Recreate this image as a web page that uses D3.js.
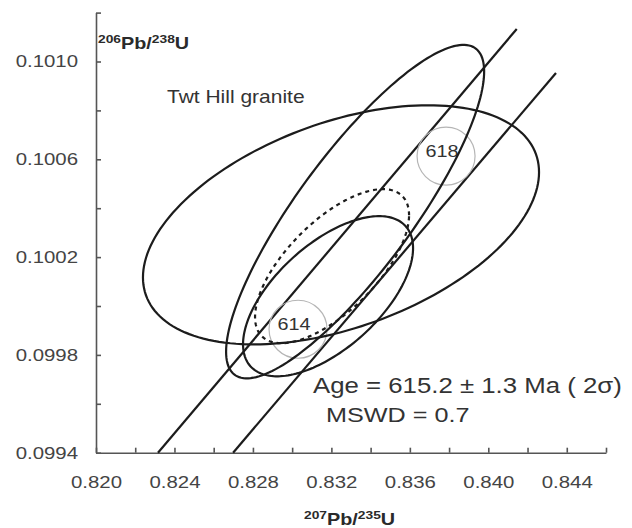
<!DOCTYPE html>
<html lang="en">
<head>
<meta charset="UTF-8">
<title>Twt Hill granite concordia</title>
<style>
  body { margin: 0; background: #fff; }
  svg { display: block; font-family: "Liberation Sans", Arial, sans-serif; }
  .axis path, .axis line { stroke: #555; stroke-width: 1.6; }
  .axis text { fill: #444; font-size: 17px; }
</style>
</head>
<body>
<script src="https://cdnjs.cloudflare.com/ajax/libs/d3/7.8.2/d3.min.js"></script>
<script>
// ticks
const xTicks = [0.820, 0.824, 0.828, 0.832, 0.836, 0.840, 0.844]
const xMinorTicks = [0.822, 0.826, 0.830, 0.834, 0.838, 0.842, 0.846]
const yTicks = [0.0994, 0.0998, 0.1002, 0.1006, 0.1010]
const yMinorTicks = [0.0996, 0.1000, 0.1004, 0.1008, 0.1012]

// analyses : 207Pb/235U, 206Pb/238U, half axes and rho
const ellX = [0.83249, 0.83321, 0.83183]
const ellY = [0.100332, 0.100386, 0.100040]
const ellSx = [0.010096, 0.006578, 0.004334]
const ellSy = [0.000489, 0.000682, 0.0003275]
const ellRho = [0.44, 0.84, 0.60]

// weighted mean (dashed)
const meanX = [0.832034]
const meanY = [0.100163]
const meanSx = [0.003926]
const meanSy = [0.000315]
const meanRho = [0.66]

// concordia band edges
const bandA = [[0.82316, 0.0994], [0.84145, 0.101133]]
const bandB = [[0.82699, 0.0994], [0.84345, 0.100953]]

// age marks on concordia
const ages = [614, 618]
const ageX = [0.83030, 0.837846]
const ageY = [0.099905, 0.100613]

const w = 632
const h = 528
const sx = 1.2   // the figure's text is stretched sideways

const svg = d3.select("body").append("svg")
    .attr("width", w)
    .attr("height", h)

const x = d3.scaleLinear().domain([0.820, 0.846]).range([96, 606])
const y = d3.scaleLinear().domain([0.0994, 0.1012]).range([452.7, 12.6])

// axes
const allX = xTicks.concat(xMinorTicks).sort(d3.ascending)
const allY = yTicks.concat(yMinorTicks).sort(d3.ascending)

const gx = svg.append("g").attr("class", "axis")
    .attr("transform", `translate(0,${y(0.0994)})`)
    .call(d3.axisBottom(x).tickValues(allX).tickSizeInner(-5).tickSizeOuter(0).tickPadding(23)
        .tickFormat(d => xTicks.some(t => Math.abs(t - d) < 1e-9) ? d3.format(".3f")(d) : ""))
gx.selectAll("text").attr("transform", `scale(${sx},1)`)

const gy = svg.append("g").attr("class", "axis")
    .attr("transform", `translate(${x(0.820)},0)`)
    .call(d3.axisLeft(y).tickValues(allY).tickSizeInner(-5).tickSizeOuter(0).tickPadding(15)
        .tickFormat(d => yTicks.some(t => Math.abs(t - d) < 1e-9) ? d3.format(".4f")(d) : ""))
gy.selectAll("text").attr("transform", `scale(${sx},1)`)

// concordia lines
const line = d3.line().x(d => x(d[0])).y(d => y(d[1]))
svg.selectAll(".band")
    .data([bandA, bandB])
    .enter()
    .append("path")
        .attr("d", line)
        .attr("fill", "none")
        .attr("stroke", "#1c1c1c")
        .attr("stroke-width", 2.2)

// age circles
svg.selectAll(".age")
    .data(ages)
    .enter()
    .append("circle")
        .attr("cx", (d, i) => x(ageX[i]))
        .attr("cy", (d, i) => y(ageY[i]))
        .attr("r", 29)
        .attr("fill", "none")
        .attr("stroke", "#b5b5b5")
        .attr("stroke-width", 1.2)

svg.selectAll(".agelabel")
    .data(ages)
    .enter()
    .append("text")
        .attr("transform", (d, i) => `translate(${x(ageX[i]) - 4},${y(ageY[i]) + 1}) scale(${sx},1)`)
        .attr("text-anchor", "middle")
        .attr("font-size", 16.5)
        .attr("fill", "#333")
        .text(d => d)

// error ellipses
function ellipse(cx, cy, ex, ey, rho) {
    const pts = d3.range(0, 361, 2).map(a => {
        const t = a * Math.PI / 180
        return [cx + ex * Math.cos(t),
                cy + ey * (rho * Math.cos(t) + Math.sqrt(1 - rho * rho) * Math.sin(t))]
    })
    return line(pts)
}

svg.selectAll(".ell")
    .data(ellX)
    .enter()
    .append("path")
        .attr("d", (d, i) => ellipse(d, ellY[i], ellSx[i], ellSy[i], ellRho[i]))
        .attr("fill", "none")
        .attr("stroke", "#1c1c1c")
        .attr("stroke-width", 2.2)

svg.selectAll(".mean")
    .data(meanX)
    .enter()
    .append("path")
        .attr("d", (d, i) => ellipse(d, meanY[i], meanSx[i], meanSy[i], meanRho[i]))
        .attr("fill", "none")
        .attr("stroke", "#1c1c1c")
        .attr("stroke-width", 2.2)
        .attr("stroke-dasharray", "4,4")

// texts
function label(px, py, size, weight) {
    return svg.append("text")
        .attr("transform", `translate(${px},${py}) scale(${sx},1)`)
        .attr("font-size", size)
        .attr("font-weight", weight)
        .attr("fill", "#2a2a2a")
}

const yl = label(98, 49, 16.5, "bold")
yl.append("tspan").attr("font-size", 11.5).attr("dy", -6).text("206")
yl.append("tspan").attr("dy", 6).text("Pb/")
yl.append("tspan").attr("font-size", 11.5).attr("dy", -6).text("238")
yl.append("tspan").attr("dy", 6).text("U")

const xl = label(304, 525, 16.5, "bold")
xl.append("tspan").attr("font-size", 11.5).attr("dy", -6).text("207")
xl.append("tspan").attr("dy", 6).text("Pb/")
xl.append("tspan").attr("font-size", 11.5).attr("dy", -6).text("235")
xl.append("tspan").attr("dy", 6).text("U")

label(167, 103, 17.5, "normal").attr("fill", "#333").text("Twt Hill granite")
label(313, 393, 21.5, "normal").attr("fill", "#333").text("Age = 615.2 ± 1.3 Ma ( 2σ)")
label(326, 422, 21, "normal").attr("fill", "#333").text("MSWD = 0.7")
</script>
</body>
</html>
